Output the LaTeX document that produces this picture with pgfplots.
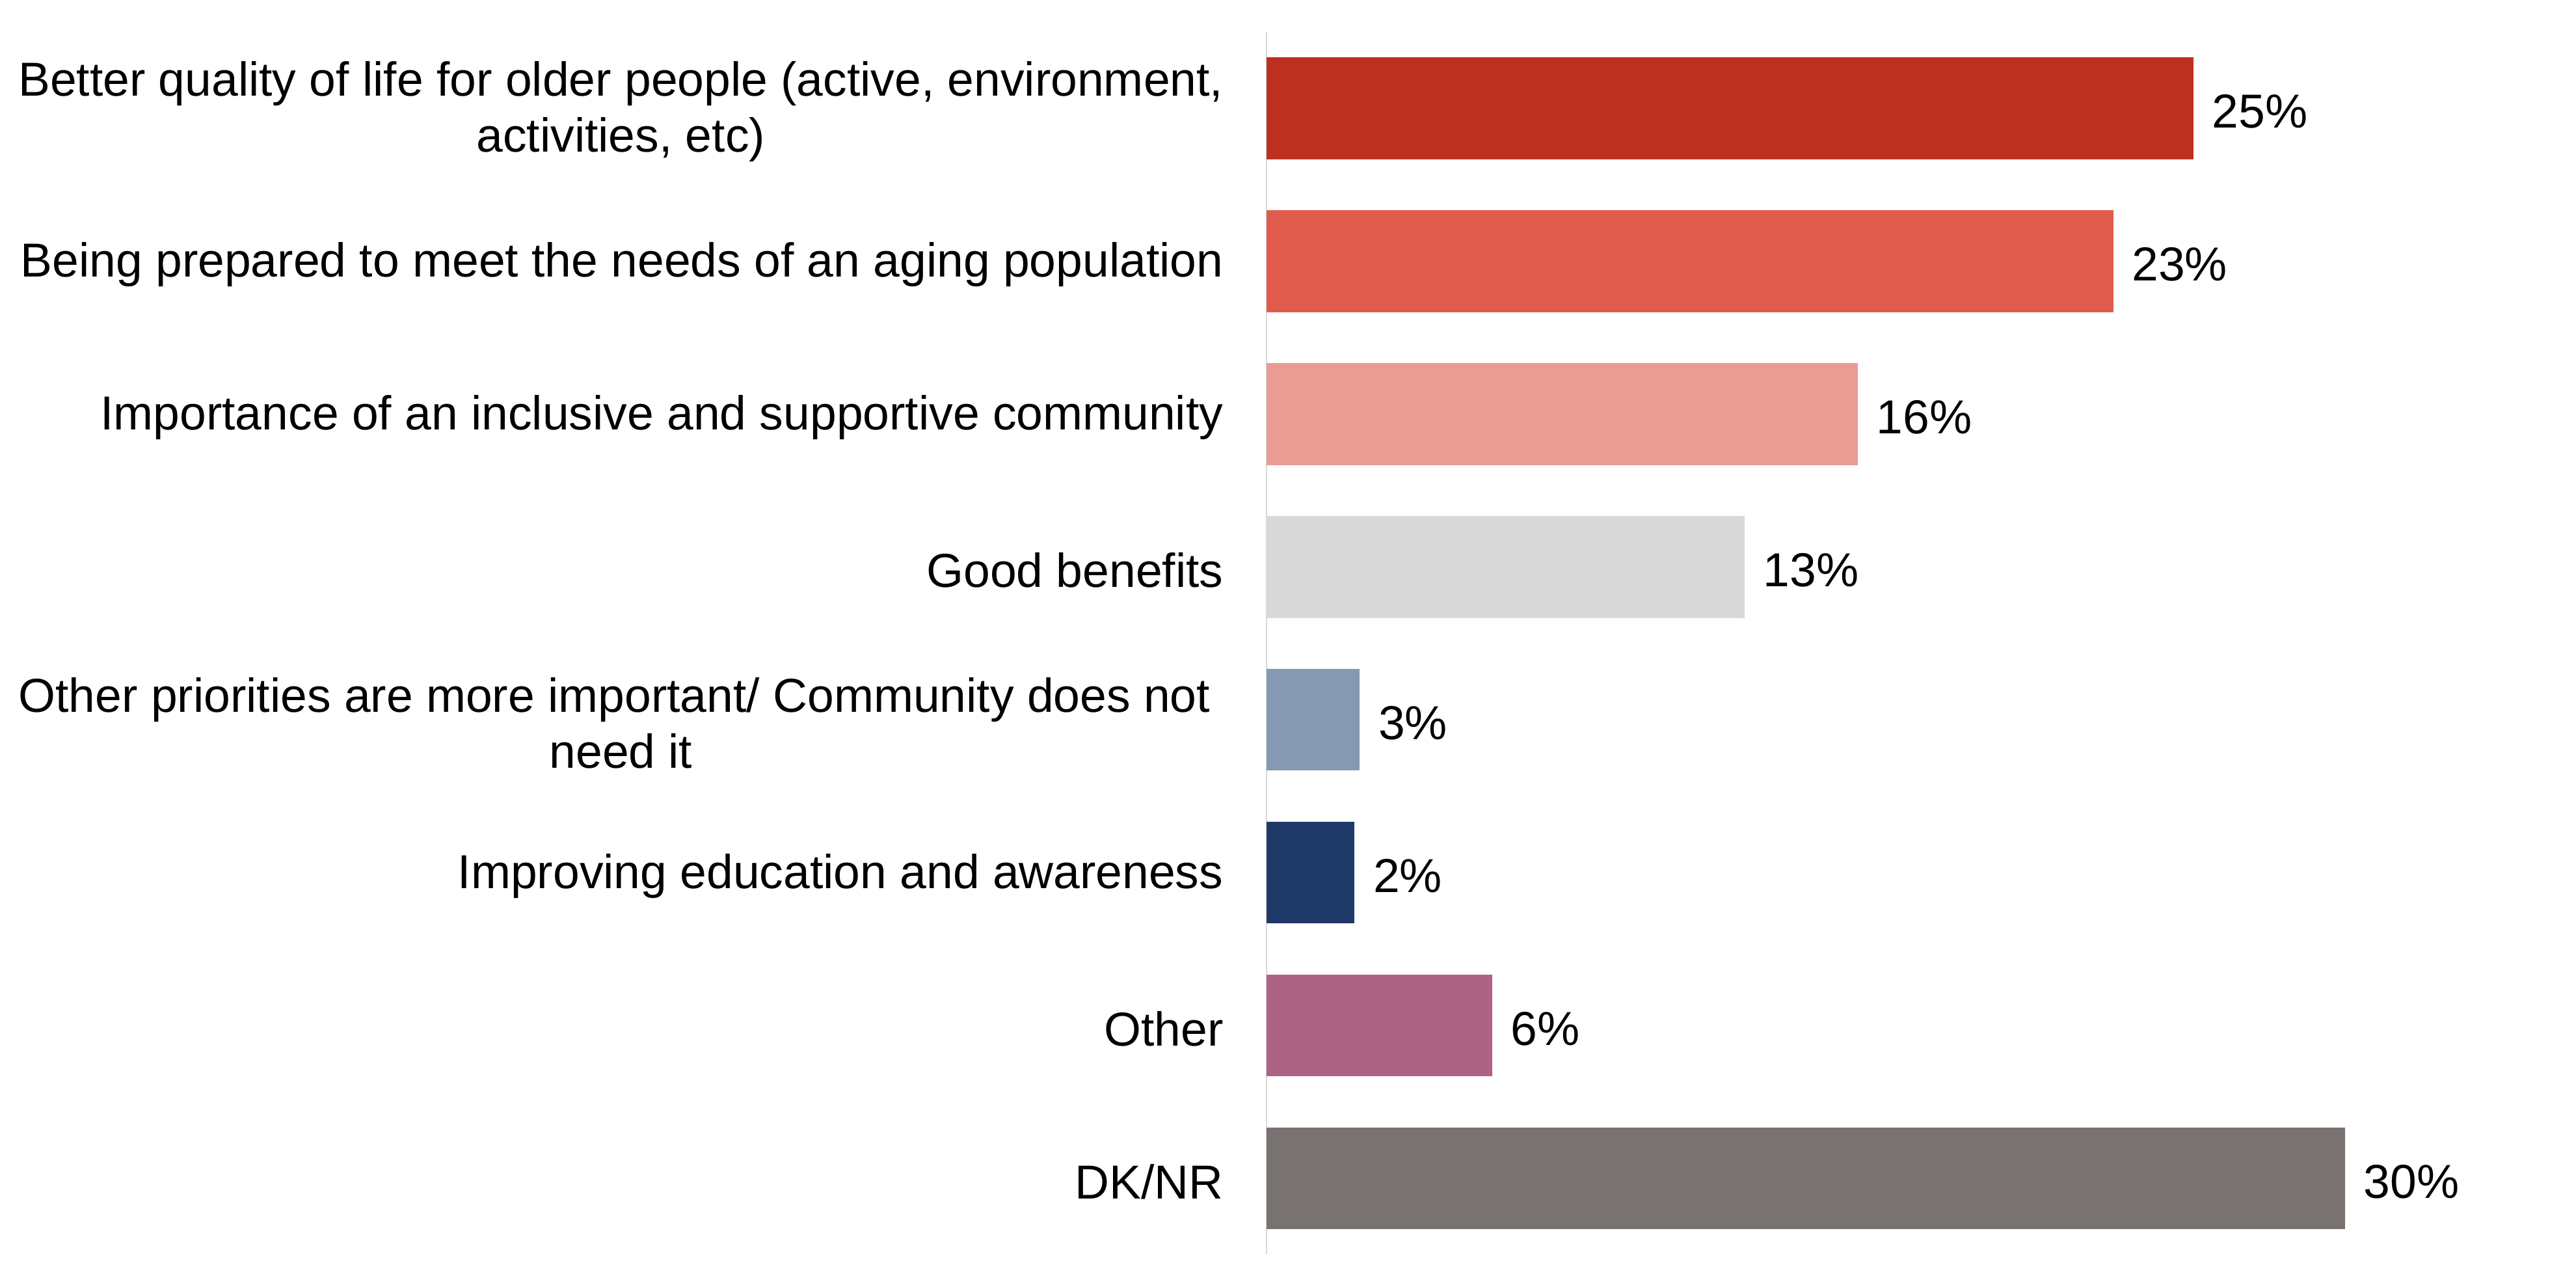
\documentclass[border=0pt]{standalone}
\usepackage{pgfplots}
\pgfplotsset{compat=1.18}
\usepackage{fontspec}
\setmainfont{Liberation Sans}
\definecolor{c1}{HTML}{BD3021}
\definecolor{c2}{HTML}{E05B4C}
\definecolor{c3}{HTML}{EA9B93}
\definecolor{c4}{HTML}{D9D9D9}
\definecolor{c5}{HTML}{8699B2}
\definecolor{c6}{HTML}{1F3A68}
\definecolor{c7}{HTML}{AD6383}
\definecolor{c8}{HTML}{787271}
\definecolor{axgray}{HTML}{D9D9D9}
\begin{document}
\begin{tikzpicture}
\useasboundingbox (0,0) rectangle (784pt,391.5pt);
\begin{axis}[
  at={(385.5pt,9.75pt)}, anchor=south west,
  scale only axis,
  width=366.5pt, height=372pt,
  xbar, bar width=31pt, bar shift=0pt,
  xmin=0, xmax=33,
  ymin=-0.5, ymax=7.5, y dir=reverse,
  axis x line=none,
  axis y line*=left,
  y axis line style={draw=axgray, line width=0.5pt},
  ytick={0,1,2,3,4,5,6,7},
  yticklabels={
    {Better quality of life for older people (active, environment,\\activities, etc)},
    {Being prepared to meet the needs of an aging population},
    {Importance of an inclusive and supportive community},
    {Good benefits},
    {Other priorities are more important/ Community does not\hspace*{4pt}\\need it},
    {Improving education and awareness},
    {Other},
    {DK/NR}},
  yticklabel style={align=center, inner sep=0pt, xshift=-13pt, yshift=-1pt,
    font=\fontsize{14.5}{17}\selectfont},
  major tick length=0pt,
  ytick style={draw=none},
  clip=false,
  every node near coord/.append style={anchor=west, inner sep=0pt, xshift=5.5pt, yshift=-1pt,
    font=\fontsize{14.5}{17}\selectfont, text=black},
]
\addplot[draw=none, fill=c1, nodes near coords={25\%}] coordinates {(25.4,0)};
\addplot[draw=none, fill=c2, nodes near coords={23\%}] coordinates {(23.2,1)};
\addplot[draw=none, fill=c3, nodes near coords={16\%}] coordinates {(16.2,2)};
\addplot[draw=none, fill=c4, nodes near coords={13\%}] coordinates {(13.1,3)};
\addplot[draw=none, fill=c5, nodes near coords={3\%}] coordinates {(2.55,4)};
\addplot[draw=none, fill=c6, nodes near coords={2\%}] coordinates {(2.41,5)};
\addplot[draw=none, fill=c7, nodes near coords={6\%}] coordinates {(6.18,6)};
\addplot[draw=none, fill=c8, nodes near coords={30\%}] coordinates {(29.55,7)};
\end{axis}
\end{tikzpicture}
\end{document}
